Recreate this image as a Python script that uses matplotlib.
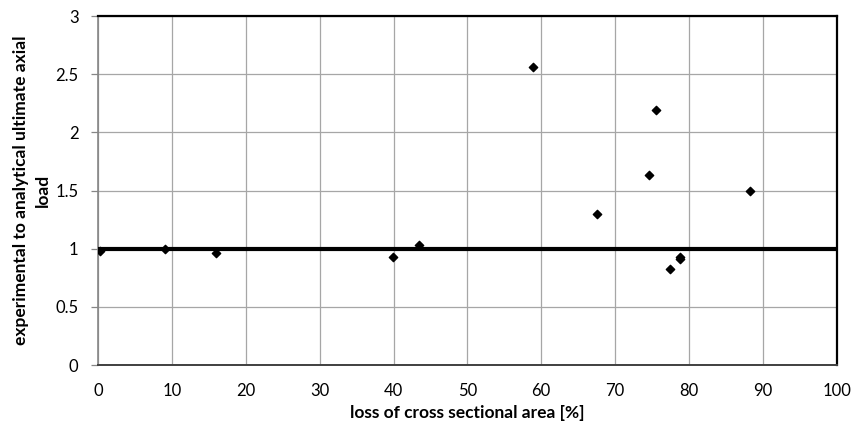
import matplotlib
matplotlib.use("Agg")
import matplotlib.pyplot as plt

# Data
loss_area = [0.2, 9.1, 16.0, 39.9, 43.5, 58.9, 67.6, 74.6, 75.5, 77.4, 78.8, 78.8, 88.2]
load_ratio = [0.98, 1.00, 0.96, 0.93, 1.03, 2.56, 1.30, 1.63, 2.19, 0.83, 0.93, 0.91, 1.50]
reference_ratio = 1.0
x_ticks = [0, 10, 20, 30, 40, 50, 60, 70, 80, 90, 100]
y_ticks = [0, 0.5, 1, 1.5, 2, 2.5, 3]
y_tick_labels = ["0", "0.5", "1", "1.5", "2", "2.5", "3"]

plt.rcParams['font.family'] = ['Lato', 'DejaVu Sans']

fig = plt.figure(figsize=(8.51, 4.25), dpi=100)
ax = fig.add_axes([0.1152, 0.141, 0.868, 0.821])

ax.axhline(reference_ratio, color='black', lw=3.0, zorder=3)
ax.scatter(loss_area, load_ratio, marker='D', s=18, color='black', zorder=4)

ax.set_xlim(0, 100)
ax.set_ylim(0, 3)
ax.set_xticks(x_ticks)
ax.set_yticks(y_ticks)
ax.set_yticklabels(y_tick_labels)
ax.grid(True, color='#a6a6a6', lw=0.9)
ax.set_axisbelow(True)

ax.tick_params(axis='both', labelsize=12, colors='black')
ax.tick_params(axis='y', length=5, width=0.9, color='#868686', pad=9)
ax.tick_params(axis='x', length=0, pad=13)

for side in ['top', 'right']:
    ax.spines[side].set_color('black')
    ax.spines[side].set_linewidth(1.6)
ax.spines['left'].set_color('#868686')
ax.spines['left'].set_linewidth(1.2)
ax.spines['bottom'].set_color('#404040')
ax.spines['bottom'].set_linewidth(1.4)

ax.set_xlabel('loss of cross sectional area [%]', fontsize=12.5, fontweight='bold', labelpad=4)
ax.set_ylabel('experimental to analytical ultimate axial\nload', fontsize=12.5,
              fontweight='bold', labelpad=3, linespacing=1.45)

fig.savefig('out.png', dpi=100)
